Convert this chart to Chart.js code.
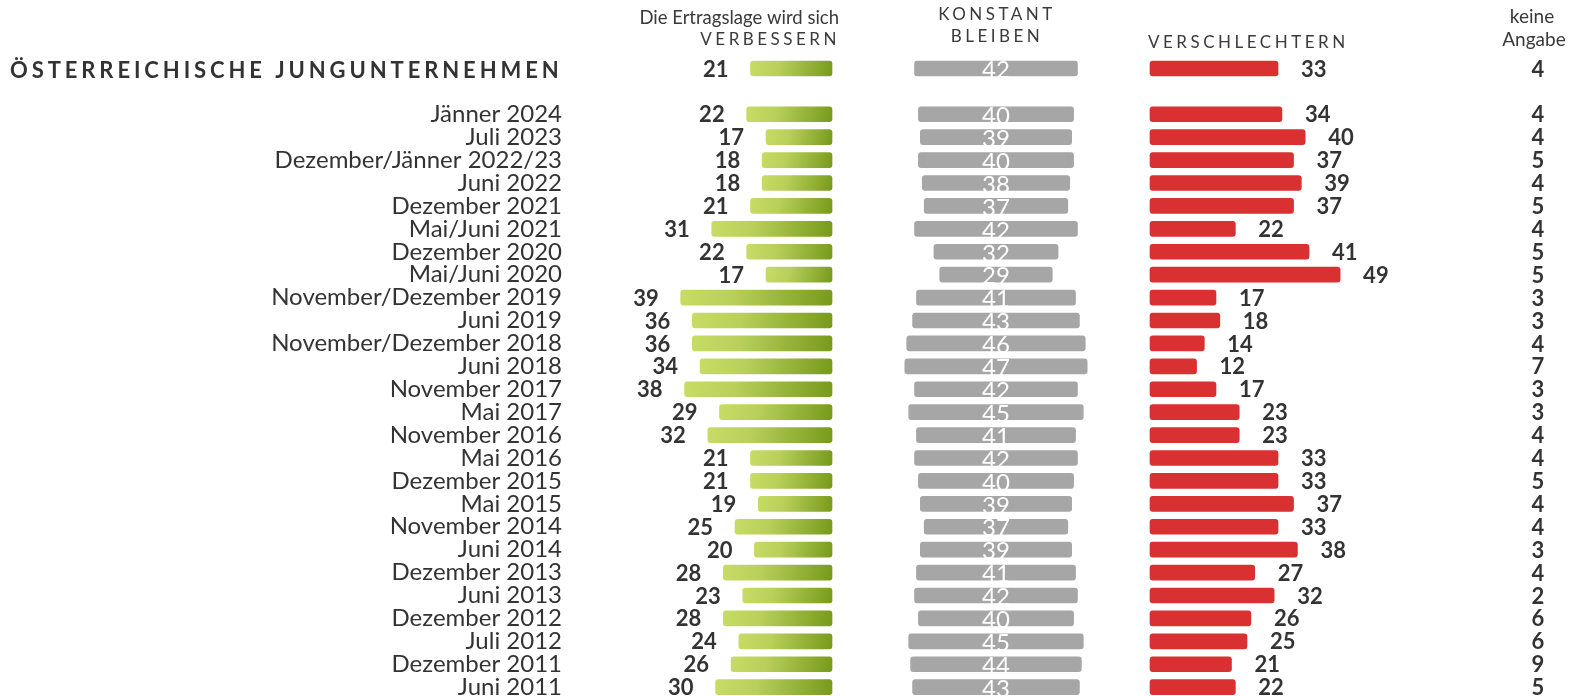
<!DOCTYPE html>
<html><head><meta charset="utf-8">
<script src="https://cdn.jsdelivr.net/npm/chart.js@4"></script>
<style>html,body{margin:0;padding:0;background:#fff;overflow:hidden}#wrap{position:relative;width:1570px;height:721px}</style>
</head><body><div id="wrap"><canvas id="c"></canvas></div>
<script>
const categories = ['ÖSTERREICHISCHE JUNGUNTERNEHMEN', '', 'Jänner 2024', 'Juli 2023', 'Dezember/Jänner 2022/23', 'Juni 2022', 'Dezember 2021', 'Mai/Juni 2021', 'Dezember 2020', 'Mai/Juni 2020', 'November/Dezember 2019', 'Juni 2019', 'November/Dezember 2018', 'Juni 2018', 'November 2017', 'Mai 2017', 'November 2016', 'Mai 2016', 'Dezember 2015', 'Mai 2015', 'November 2014', 'Juni 2014', 'Dezember 2013', 'Juni 2013', 'Dezember 2012', 'Juli 2012', 'Dezember 2011', 'Juni 2011'];
const verbessern = [21, null, 22, 17, 18, 18, 21, 31, 22, 17, 39, 36, 36, 34, 38, 29, 32, 21, 21, 19, 25, 20, 28, 23, 28, 24, 26, 30];
const konstant = [42, null, 40, 39, 40, 38, 37, 42, 32, 29, 41, 43, 46, 47, 42, 45, 41, 42, 40, 39, 37, 39, 41, 42, 40, 45, 44, 43];
const verschlechtern = [33, null, 34, 40, 37, 39, 37, 22, 41, 49, 17, 18, 14, 12, 17, 23, 23, 33, 33, 37, 33, 38, 27, 32, 26, 25, 21, 22];
const keineAngabe = [4, null, 4, 4, 5, 4, 5, 4, 5, 5, 3, 3, 4, 7, 3, 3, 4, 4, 5, 4, 4, 3, 4, 2, 6, 6, 9, 5];
const headVerbessern = ['Die Ertragslage wird sich', 'VERBESSERN'];
const headKonstant = ['KONSTANT', 'BLEIBEN'];
const headVerschlechtern = ['VERSCHLECHTERN'];
const headKeine = ['keine', 'Angabe'];

// layout positions (scale units)
const PXU = 3.88;
const GREEN_END = 262 / PXU;
const GREY_MID = 426 / PXU;
const RED_START = 580 / PXU;
const KA_X = 968 / PXU;
const XMAX = 1000 / PXU;
const TXT = '#333333';

function greenBg(ctx) {
  const chart = ctx.chart;
  if (!chart.chartArea || !ctx.raw) return '#a8c24a';
  const xs = chart.scales.x, ys = chart.scales.y;
  const x0 = xs.getPixelForValue(ctx.raw[0]), x1 = xs.getPixelForValue(ctx.raw[1]);
  const yc = ys.getPixelForValue(ctx.dataIndex);
  const g = chart.ctx.createLinearGradient(x0, yc - 8, x1, yc + 8);
  g.addColorStop(0, '#c8dc64');
  g.addColorStop(0.35, '#b8cf5a');
  g.addColorStop(1, '#779a1b');
  return g;
}

const labelPlugin = {
  id: 'labels',
  afterDatasetsDraw(chart) {
    const ctx = chart.ctx, xs = chart.scales.x, ys = chart.scales.y;
    ctx.save();
    ctx.textBaseline = 'middle';
    for (let i = 0; i < categories.length; i++) {
      const y = ys.getPixelForValue(i) + 1;
      if (verbessern[i] != null) {
        ctx.font = 'bold 22px Lato'; ctx.fillStyle = TXT; ctx.textAlign = 'right';
        ctx.fillText(String(verbessern[i]), xs.getPixelForValue(GREEN_END - verbessern[i]) - 22, y);
      }
      if (konstant[i] != null) {
        ctx.font = '24px Lato'; ctx.fillStyle = '#ffffff'; ctx.textAlign = 'center';
        ctx.fillText(String(konstant[i]), xs.getPixelForValue(GREY_MID), y + 1);
      }
      if (verschlechtern[i] != null) {
        ctx.font = 'bold 22px Lato'; ctx.fillStyle = TXT; ctx.textAlign = 'left';
        ctx.fillText(String(verschlechtern[i]), xs.getPixelForValue(RED_START + verschlechtern[i]) + 23, y);
      }
      if (keineAngabe[i] != null) {
        ctx.font = 'bold 22px Lato'; ctx.fillStyle = TXT; ctx.textAlign = 'center';
        ctx.fillText(String(keineAngabe[i]), xs.getPixelForValue(KA_X), y);
      }
    }
    // header row label
    ctx.font = 'bold 22px Lato'; ctx.fillStyle = TXT; ctx.textAlign = 'left';
    ctx.letterSpacing = '3.9px';
    ctx.fillText(categories[0], 10, ys.getPixelForValue(0) + 2);
    // column headers
    ctx.fillStyle = '#3a3a3a';
    ctx.font = '18.5px Lato'; ctx.letterSpacing = '0px';
    ctx.textAlign = 'right';
    ctx.fillText(headVerbessern[0], 839, 18);
    ctx.font = '17px Lato'; ctx.letterSpacing = '3.5px';
    ctx.fillText(headVerbessern[1], 840, 40);
    ctx.textAlign = 'center';
    ctx.fillText(headKonstant[0], 997, 15);
    ctx.fillText(headKonstant[1], 997, 37);
    ctx.textAlign = 'left';
    ctx.fillText(headVerschlechtern[0], 1148, 43);
    ctx.letterSpacing = '0px';
    ctx.font = '19px Lato'; ctx.textAlign = 'center';
    ctx.fillText(headKeine[0], 1532, 17);
    ctx.fillText(headKeine[1], 1534, 40);
    ctx.restore();
  }
};

new Chart(document.getElementById('c'), {
  type: 'bar',
  data: {
    labels: categories,
    datasets: [
      { label: 'verbessern', data: verbessern.map(v => v == null ? null : [GREEN_END - v, GREEN_END]), backgroundColor: greenBg },
      { label: 'konstant', data: konstant.map(v => v == null ? null : [GREY_MID - v / 2, GREY_MID + v / 2]), backgroundColor: '#a6a6a6' },
      { label: 'verschlechtern', data: verschlechtern.map(v => v == null ? null : [RED_START, RED_START + v]), backgroundColor: '#d93131' }
    ]
  },
  options: {
    indexAxis: 'y',
    responsive: true,
    maintainAspectRatio: false,
    animation: false,
    layout: { padding: { top: 57, bottom: 0, left: 0, right: 0 } },
    datasets: { bar: { grouped: false, barThickness: 15, borderRadius: 3, borderSkipped: false } },
    plugins: { legend: { display: false }, tooltip: { enabled: false } },
    scales: {
      x: { type: 'linear', display: false, min: 0, max: XMAX },
      y: {
        type: 'category',
        grid: { display: false, drawTicks: false },
        border: { display: false },
        ticks: {
          autoSkip: false, padding: 8, color: TXT,
          font: { family: 'Lato', size: 24 },
          callback: (v, i) => i === 0 ? '' : categories[i]
        },
        afterFit(s) { s.width = 570; }
      }
    }
  },
  plugins: [labelPlugin]
});
</script>
</body></html>
